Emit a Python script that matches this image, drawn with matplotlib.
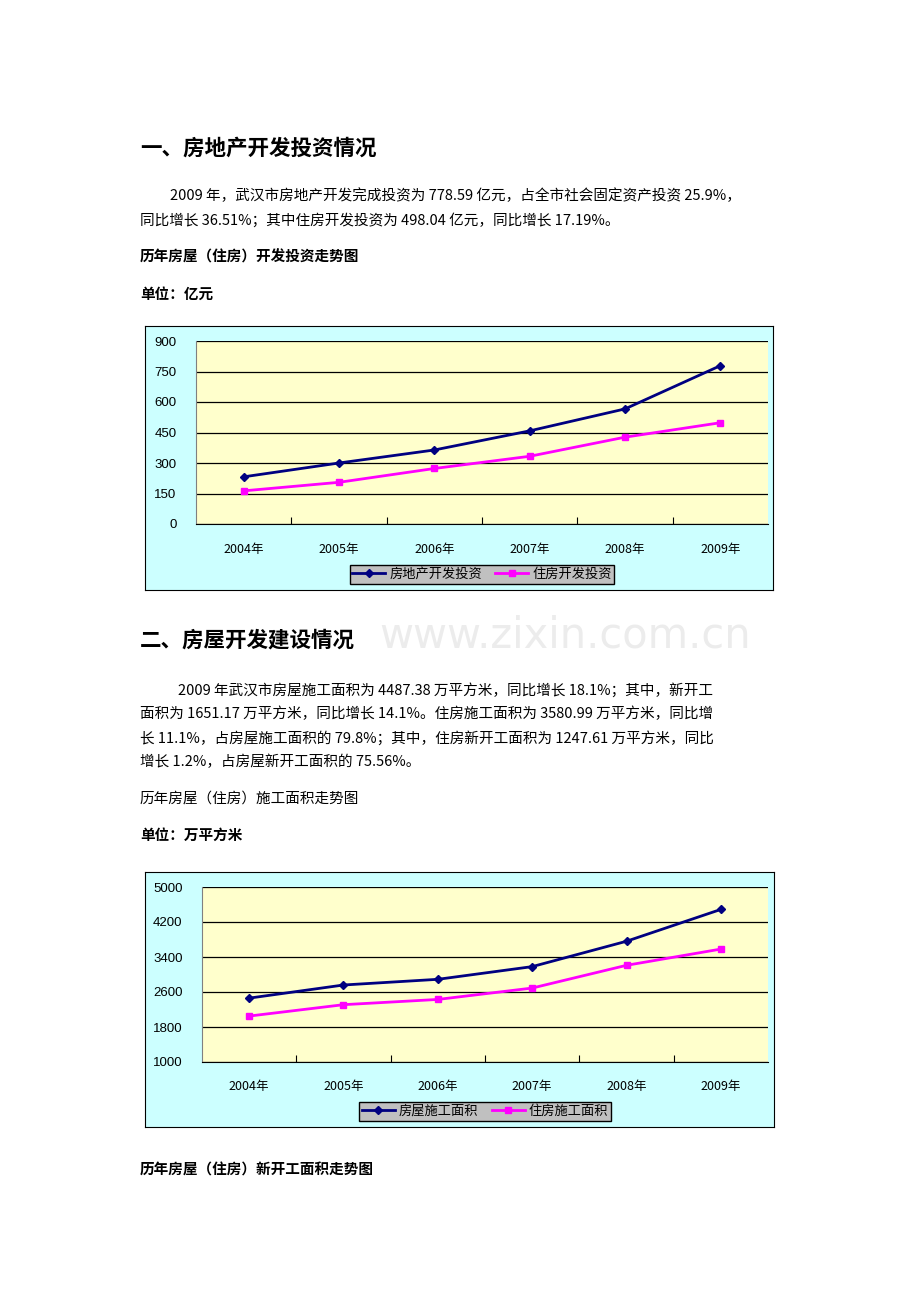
import matplotlib
matplotlib.use("Agg")
import matplotlib.pyplot as plt

plt.rcParams['font.family'] = ['Noto Sans CJK SC', 'DejaVu Sans']

years = ["2004年", "2005年", "2006年", "2007年", "2008年", "2009年"]
invest_total = [232, 300, 364, 458, 566, 778.59]
invest_housing = [163, 205, 273, 333, 427, 498.04]
area_total = [2460, 2760, 2890, 3180, 3760, 4487.38]
area_housing = [2050, 2310, 2430, 2690, 3210, 3580.99]

W, H = 920, 1302
fig = plt.figure(figsize=(W / 100, H / 100), dpi=100)
fig.patch.set_facecolor("white")


def px(x0, y0, x1, y1):
    return [x0 / W, 1 - y1 / H, (x1 - x0) / W, (y1 - y0) / H]


def txt(x, y, s, size=10.5, bold=False, color="black"):
    fig.text(x / W, 1 - y / H, s, fontsize=size, fontweight="bold" if bold else "normal",
             color=color, va="center", ha="left")


# watermark, kept right of the heading
fig.text(565 / W, 1 - 635 / H, "www.zixin.com.cn", fontsize=30, color="#ececec",
         ha="center", va="center", family="DejaVu Sans", zorder=0)

txt(140, 148, "一、房地产开发投资情况", 15.5, True)
txt(170, 196, "2009 年，武汉市房地产开发完成投资为 778.59 亿元，占全市社会固定资产投资 25.9%，")
txt(140, 220, "同比增长 36.51%；其中住房开发投资为 498.04 亿元，同比增长 17.19%。")
txt(140, 257, "历年房屋（住房）开发投资走势图", 10.5, True)
txt(140, 294, "单位：亿元", 10.5, True)

txt(140, 640, "二、房屋开发建设情况", 15.5, True)
txt(178, 690, "2009 年武汉市房屋施工面积为 4487.38 万平方米，同比增长 18.1%；其中，新开工")
txt(140, 714, "面积为 1651.17 万平方米，同比增长 14.1%。住房施工面积为 3580.99 万平方米，同比增")
txt(140, 738, "长 11.1%，占房屋施工面积的 79.8%；其中，住房新开工面积为 1247.61 万平方米，同比")
txt(140, 762, "增长 1.2%，占房屋新开工面积的 75.56%。")
txt(140, 799, "历年房屋（住房）施工面积走势图", 10.5)
txt(140, 835, "单位：万平方米", 10.5, True)
txt(140, 1170, "历年房屋（住房）新开工面积走势图", 10.5, True)


def chart(outer, plot, ticks, s1, s2, labels, legend_box):
    bg = fig.add_axes(px(*outer))
    bg.set_facecolor("#ccffff")
    bg.set_xticks([]); bg.set_yticks([])
    for sp in bg.spines.values():
        sp.set_color("black"); sp.set_linewidth(0.8)
    ax = fig.add_axes(px(*plot))
    ax.set_facecolor("#ffffcc")
    x = range(len(years))
    ax.plot(x, s1, color="#000080", marker="D", markersize=4, lw=2, label=labels[0])
    ax.plot(x, s2, color="#ff00ff", marker="s", markersize=5, lw=2, label=labels[1])
    ax.set_xlim(-0.5, len(years) - 0.5)
    ax.set_ylim(ticks[0], ticks[-1])
    ax.set_yticks(ticks)
    ax.set_yticklabels([str(t) for t in ticks], fontsize=9.5, family="Liberation Sans")
    ax.set_xticks([i + 0.5 for i in range(len(years) - 1)])
    ax.set_xticklabels([])
    ax.tick_params(axis="x", length=5, direction="in", color="black")
    ax.tick_params(axis="y", length=0, pad=14)
    for i, yr in enumerate(years):
        ax.text(i, -0.14, yr, transform=ax.get_xaxis_transform(), ha="center", va="center",
                fontsize=9)
    ax.grid(axis="y", color="black", lw=0.9)
    for k in ("top", "right"):
        ax.spines[k].set_visible(False)
    ax.spines["left"].set_color("#808080")
    ax.spines["bottom"].set_color("black")
    lx0, ly0, lx1, ly1 = legend_box
    leg = ax.legend(loc="center", bbox_to_anchor=((lx0 + lx1) / 2 / W, 1 - (ly0 + ly1) / 2 / H),
                    bbox_transform=fig.transFigure, ncol=2, frameon=True, fancybox=False,
                    fontsize=9.5, handlelength=2.5, columnspacing=1.0, borderpad=0.2,
                    handletextpad=0.3)
    leg.get_frame().set_facecolor("#c0c0c0")
    leg.get_frame().set_edgecolor("black")
    leg.get_frame().set_alpha(1)


chart((145, 326, 773, 590), (196, 341, 768, 524), [0, 150, 300, 450, 600, 750, 900],
      invest_total, invest_housing, ["房地产开发投资", "住房开发投资"], (352, 565, 612, 584))
chart((145, 872, 774, 1127), (202, 887, 768, 1062), [1000, 1800, 2600, 3400, 4200, 5000],
      area_total, area_housing, ["房屋施工面积", "住房施工面积"], (358, 1101, 612, 1122))

fig.savefig("out.png", dpi=100)
